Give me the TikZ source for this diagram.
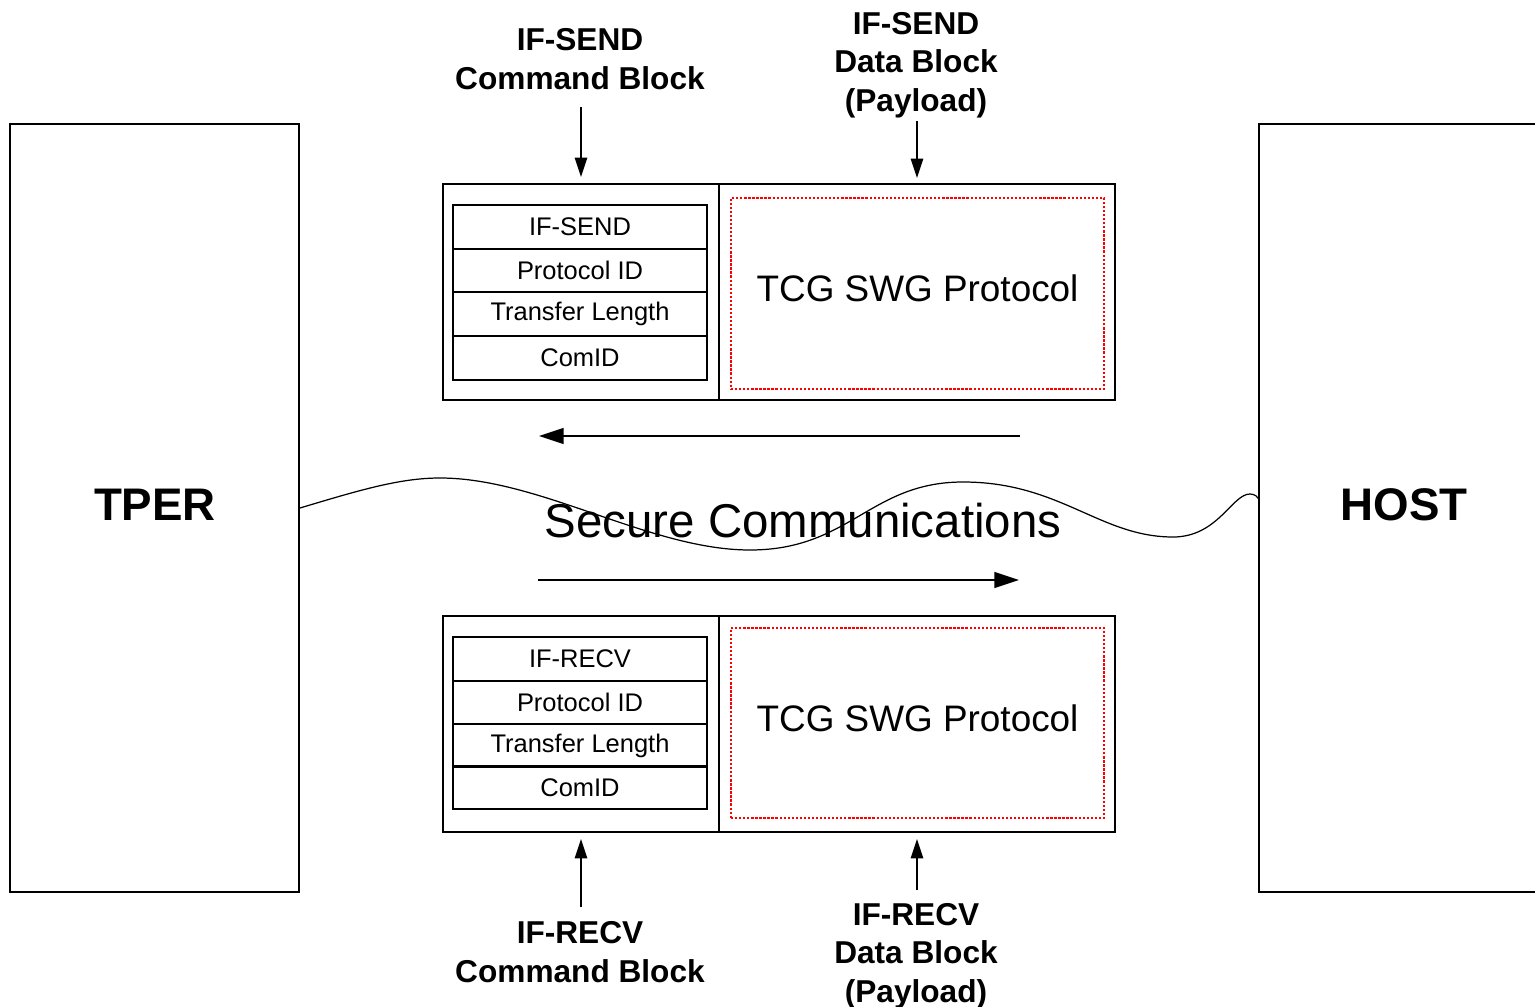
\documentclass[tikz,border=0pt]{standalone}
\usepackage{fontspec}
\setmainfont{Liberation Sans}
\usetikzlibrary{arrows.meta}
\begin{document}
\begin{tikzpicture}[x=0.02cm,y=-0.02cm,
  endbox/.style={draw, line width=1.2pt, inner sep=0pt, minimum height=15.36cm},
  endlabel/.style={font=\fontsize{26}{30}\selectfont\bfseries, inner sep=0pt},
  blockpart/.style={draw, line width=1.1pt, inner sep=0pt, minimum height=4.32cm},
  cell/.style={draw, line width=1.1pt, inner sep=0pt, minimum width=5.08cm, minimum height=0.87cm,
    font=\fontsize{14.5}{17}\selectfont},
  payload/.style={draw=red, densely dotted, line width=1.3pt, inner sep=0pt, minimum width=7.46cm,
    minimum height=3.82cm, text depth=6pt, font=\fontsize{21}{25}\selectfont},
  toplabel/.style={align=center, inner sep=0pt, font=\fontsize{18}{22}\selectfont\bfseries},
  varrow/.style={line width=1pt, -{Triangle[length=11pt,width=7pt]}},
  harrow/.style={line width=1pt, -{Triangle[length=14pt,width=9pt]}},
  wave/.style={line width=0.7pt}
]
\useasboundingbox (0,0) rectangle (1535,1007);

% end boxes
\node[endbox, minimum width=5.78cm] (tper) at (154.5,508) {};
\node[endlabel] (tperlbl) at (155,505) {TPER};
\node[endbox, minimum width=6.4cm] (host) at (1419,508) {};
\node[endlabel] (hostlbl) at (1404,505) {HOST};

% top (IF-SEND) block
\node[blockpart, minimum width=5.52cm] (cmdS) at (581,292) {};
\node[blockpart, minimum width=7.92cm] (dataS) at (917,292) {};
\node[cell] (s1) at (580,227) {IF-SEND};
\node[cell] (s2) at (580,270.5) {Protocol ID};
\node[cell] (s3) at (580,314) {Transfer Length};
\node[cell] (s4) at (580,358) {ComID};
\node[payload] (pS) at (917.5,293.5) {TCG SWG Protocol};

% bottom (IF-RECV) block
\node[blockpart, minimum width=5.52cm] (cmdR) at (581,724) {};
\node[blockpart, minimum width=7.92cm] (dataR) at (917,724) {};
\node[cell] (r1) at (580,659) {IF-RECV};
\node[cell] (r2) at (580,702.5) {Protocol ID};
\node[cell] (r3) at (580,745.5) {Transfer Length};
\node[cell] (r4) at (580,787.5) {ComID};
\node[payload, minimum height=3.8cm] (pR) at (917.5,723) {TCG SWG Protocol};

% labels
\node[toplabel] (lsc) at (580,59) {IF-SEND\\Command Block};
\node[toplabel] (lsd) at (916,65) {IF-SEND\\Data Block\\(Payload)};
\node[toplabel] (lrc) at (580,952) {IF-RECV\\Command Block};
\node[toplabel] (lrd) at (916,956) {IF-RECV\\Data Block\\(Payload)};

% vertical arrows
\coordinate (a1s) at (581,107); \coordinate (a1e) at (581,177);
\coordinate (a2s) at (917,121); \coordinate (a2e) at (917,178);
\coordinate (a3s) at (581,907); \coordinate (a3e) at (581,839);
\coordinate (a4s) at (917,890); \coordinate (a4e) at (917,839);
\draw[varrow] (a1s) -- (a1e);
\draw[varrow] (a2s) -- (a2e);
\draw[varrow] (a3s) -- (a3e);
\draw[varrow] (a4s) -- (a4e);

% horizontal arrows
\coordinate (h1s) at (1020,436); \coordinate (h1e) at (539,436);
\coordinate (h2s) at (538,580); \coordinate (h2e) at (1019,580);
\draw[harrow] (h1s) -- (h1e);
\draw[harrow] (h2s) -- (h2e);

% wave
\coordinate (w0) at (300,508);
\coordinate (w6) at (1259,500);
\draw[wave] (w0) .. controls (360,490) and (400,478) .. (440,478)
  .. controls (540,478) and (650,550) .. (750,550)
  .. controls (850,550) and (870,482) .. (963,482)
  .. controls (1060,482) and (1100,537) .. (1173,537)
  .. controls (1218,537) and (1232,494) .. (1250,494)
  .. controls (1255,494) and (1258,497) .. (w6);

\node[font=\fontsize{27}{32}\selectfont, inner sep=0pt] (sec) at (803,521) {Secure Communications};
\end{tikzpicture}
\end{document}
